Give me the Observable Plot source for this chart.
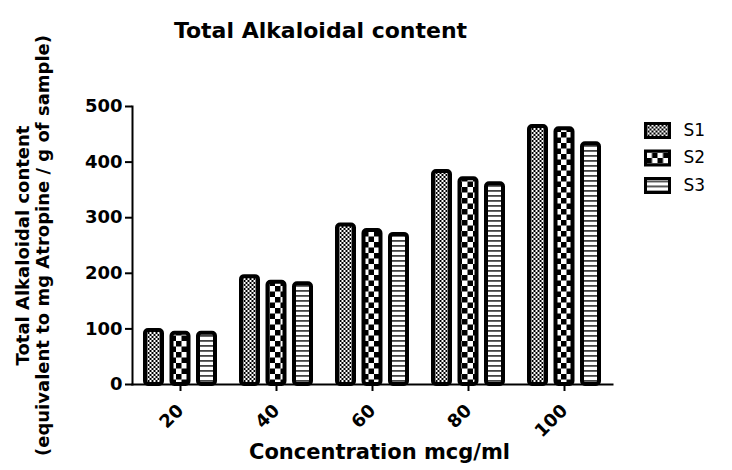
<!DOCTYPE html>
<html>
<head>
<meta charset="utf-8">
<script src="https://cdn.jsdelivr.net/npm/d3@7"></script>
<script src="https://cdn.jsdelivr.net/npm/@observablehq/plot@0.6"></script>
<style>
  html, body { margin: 0; padding: 0; background: #fff; }
  #chart { width: 732px; height: 470px; }
</style>
</head>
<body>
<div id="chart"></div>
<script>
const concentrations = ["20", "40", "60", "80", "100"];
const seriesNames = ["S1", "S2", "S3"];
const s1 = [97, 194, 287, 383, 464];
const s2 = [92, 184, 277, 370, 460];
const s3 = [92, 181, 270, 361, 433];
const yTicks = [0, 100, 200, 300, 400, 500];
const titleText = "Total Alkaloidal content";
const yLabel = "Total Alkaloidal content\n(equivalent to mg Atropine / g of sample)";
const xLabel = "Concentration mcg/ml";

const valuesBySeries = {S1: s1, S2: s2, S3: s3};
const data = concentrations.flatMap((c, i) =>
  seriesNames.map(s => ({conc: c, series: s, value: valuesBySeries[s][i]}))
);

const offsets = {S1: -26.5, S2: 0, S3: 26.5};
const fills = {S1: "url(#pat-s1)", S2: "url(#pat-s2)", S3: "url(#pat-s3)"};

const rectSymbol = {
  draw(context) { context.rect(-12, -7, 24, 14); }
};

const marks = [];
seriesNames.forEach(s => {
  marks.push(Plot.barY(data.filter(d => d.series === s), {
    x: "conc", y: "value", dx: offsets[s],
    insetLeft: 39.5, insetRight: 39.5,
    fill: fills[s], stroke: "black", strokeWidth: 4, rx: 3
  }));
});
marks.push(Plot.frame({anchor: "left", stroke: "black", strokeWidth: 2}));
marks.push(Plot.frame({anchor: "bottom", stroke: "black", strokeWidth: 2}));
marks.push(Plot.axisY({ticks: yTicks, tickSize: 7, tickPadding: 3, fontSize: 18, fontWeight: "bold", strokeWidth: 2, label: null}));
marks.push(Plot.axisX({tickSize: 7, tickPadding: 16, tickRotate: -45, fontSize: 18, fontWeight: "bold", strokeWidth: 2, label: null}));
marks.push(Plot.text([titleText], {frameAnchor: "top", dx: -52, dy: -76, lineAnchor: "middle", fontSize: 22, fontWeight: "bold"}));
marks.push(Plot.text([yLabel], {frameAnchor: "left", dx: -100, rotate: -90, textAnchor: "middle", lineAnchor: "middle", lineHeight: 1.12, fontSize: 18, fontWeight: "bold"}));
marks.push(Plot.text([xLabel], {frameAnchor: "bottom", dx: 7, dy: 68, lineAnchor: "middle", fontSize: 21, fontWeight: "bold"}));
seriesNames.forEach((s, i) => {
  marks.push(Plot.dot([s], {frameAnchor: "top-right", dx: 45, dy: 24 + 27.5 * i, symbol: rectSymbol, fill: fills[s], stroke: "black", strokeWidth: 3}));
  marks.push(Plot.text([s], {frameAnchor: "top-right", dx: 71, dy: 24 + 27.5 * i, textAnchor: "start", lineAnchor: "middle", fontSize: 17}));
});

const chart = Plot.plot({
  width: 732,
  height: 470,
  marginLeft: 132,
  marginRight: 120,
  marginTop: 106,
  marginBottom: 86,
  style: {fontFamily: "'DejaVu Sans', sans-serif", background: "white", color: "black", overflow: "visible"},
  x: {domain: concentrations, padding: 0, axis: null},
  y: {domain: [0, 500], axis: null},
  marks
});

const svg = d3.select(chart.tagName === "svg" ? chart : chart.querySelector("svg"));
const defs = svg.insert("defs", ":first-child");
const p1 = defs.append("pattern").attr("id", "pat-s1").attr("patternUnits", "userSpaceOnUse").attr("width", 4).attr("height", 4);
p1.append("rect").attr("width", 4).attr("height", 4).attr("fill", "black");
p1.append("rect").attr("x", 0).attr("y", 0).attr("width", 2).attr("height", 2).attr("fill", "white");
p1.append("rect").attr("x", 2).attr("y", 2).attr("width", 2).attr("height", 2).attr("fill", "white");
const p2 = defs.append("pattern").attr("id", "pat-s2").attr("patternUnits", "userSpaceOnUse").attr("width", 11).attr("height", 11);
p2.append("rect").attr("width", 11).attr("height", 11).attr("fill", "white");
p2.append("rect").attr("x", 0).attr("y", 0).attr("width", 5.5).attr("height", 5.5).attr("fill", "black");
p2.append("rect").attr("x", 5.5).attr("y", 5.5).attr("width", 5.5).attr("height", 5.5).attr("fill", "black");
const p3 = defs.append("pattern").attr("id", "pat-s3").attr("patternUnits", "userSpaceOnUse").attr("width", 5).attr("height", 5);
p3.append("rect").attr("width", 5).attr("height", 5).attr("fill", "white");
p3.append("rect").attr("x", 0).attr("y", 0).attr("width", 5).attr("height", 1.8).attr("fill", "#444");

document.getElementById("chart").appendChild(chart);
</script>
</body>
</html>
